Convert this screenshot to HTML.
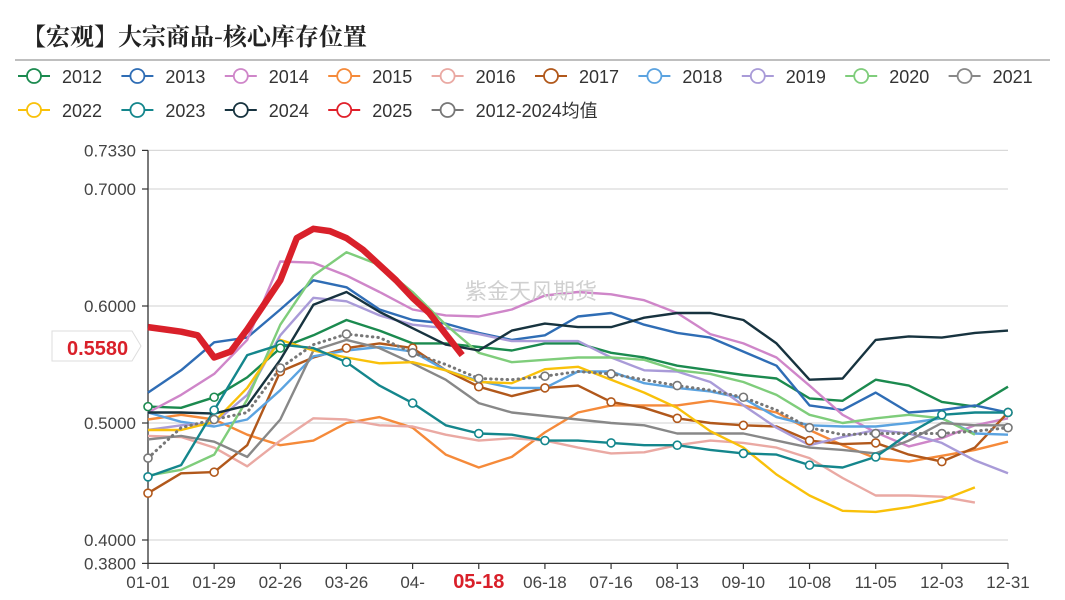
<!DOCTYPE html>
<html><head><meta charset="utf-8">
<style>
body{margin:0;background:#fff;}
svg{display:block;font-family:"Liberation Sans","Noto Sans CJK SC",sans-serif;}
</style></head>
<body>
<svg id="chart" width="1065" height="600" viewBox="0 0 1065 600">
<text x="22" y="45" font-size="24" font-weight="bold" fill="#222" font-family="'Noto Serif CJK SC','Noto Sans CJK SC',serif">【宏观】大宗商品-核心库存位置</text>
<line x1="15" y1="60" x2="1050" y2="60" stroke="#999" stroke-width="1.2"/>
<g id="legend"></g>
<g id="grid"></g>
<g id="series"></g>
<text x="465" y="299" font-size="22" fill="#d0d0d0" font-family="'Noto Sans CJK SC',sans-serif">紫金天风期货</text>
<g>
<path d="M52,331 H132 L141,346 L132,361 H52 Z" fill="#fff" stroke="#ddd" stroke-width="1"/>
<text x="67" y="355" font-size="20" font-weight="bold" fill="#d9202a">0.5580</text>
</g>
</svg>
<script>
const years = ["2012","2013","2014","2015","2016","2017","2018","2019","2020","2021","2022","2023","2024","2025","2012-2024均值"];
const colors = ["#1b8a4f","#2f6db5","#cf86c9","#f58a3a","#eaa9a3","#b1581b","#5ba3e0","#a99bd8","#7fcd7b","#888888","#f9c10a","#14868c","#17333f","#e0202a","#777777"];
const xTickLabels = ["01-01","01-29","02-26","03-26","04-","05-18","06-18","07-16","08-13","09-10","10-08","11-05","12-03","12-31"];
const yTicks = [0.38,0.4,0.5,0.6,0.7,0.733];
const yTickLabels = ["0.3800","0.4000","0.5000","0.6000","0.7000","0.7330"];
const s2012 = [0.514,0.513,0.522,0.539,0.564,0.575,0.588,0.579,0.568,0.568,0.565,0.562,0.568,0.568,0.560,0.556,0.549,0.545,0.541,0.538,0.521,0.519,0.537,0.532,0.518,0.514,0.531];
const s2013 = [0.526,0.545,0.569,0.573,0.597,0.622,0.616,0.597,0.588,0.585,0.577,0.571,0.575,0.591,0.594,0.584,0.577,0.573,0.561,0.549,0.515,0.511,0.526,0.509,0.511,0.515,0.509];
const s2014 = [0.509,0.524,0.542,0.571,0.638,0.637,0.626,0.612,0.597,0.592,0.591,0.597,0.609,0.612,0.610,0.605,0.594,0.576,0.568,0.556,0.532,0.507,0.492,0.480,0.487,0.498,0.504];
const s2015 = [0.503,0.507,0.503,0.490,0.481,0.485,0.500,0.505,0.496,0.473,0.462,0.471,0.492,0.509,0.515,0.515,0.515,0.519,0.515,0.509,0.494,0.481,0.470,0.467,0.472,0.477,0.484];
const s2016 = [0.489,0.488,0.479,0.463,0.485,0.504,0.503,0.498,0.497,0.490,0.485,0.487,0.485,0.479,0.474,0.475,0.481,0.485,0.483,0.479,0.470,0.453,0.438,0.438,0.437,0.432,null];
const s2017 = [0.440,0.457,0.458,0.481,0.544,0.556,0.564,0.568,0.564,0.545,0.531,0.523,0.530,0.532,0.518,0.513,0.504,0.500,0.498,0.497,0.485,0.482,0.483,0.473,0.467,0.479,0.509];
const s2018 = [0.509,0.501,0.497,0.503,0.528,0.557,0.562,0.565,0.561,0.545,0.536,0.530,0.530,0.544,0.544,0.534,0.530,0.527,0.521,0.505,0.498,0.497,0.497,0.500,0.504,0.491,0.490];
const s2019 = [0.494,0.498,0.500,0.524,0.575,0.607,0.604,0.592,0.584,0.581,0.576,0.570,0.570,0.570,0.556,0.545,0.544,0.535,0.515,0.496,0.481,0.488,0.494,0.491,0.483,0.468,0.457];
const s2020 = [0.455,0.460,0.473,0.520,0.584,0.626,0.646,0.635,0.612,0.584,0.560,0.552,0.554,0.556,0.556,0.554,0.545,0.542,0.535,0.524,0.507,0.500,0.504,0.507,0.504,0.490,null];
const s2021 = [0.486,0.489,0.484,0.471,0.503,0.562,0.571,0.564,0.551,0.537,0.517,0.509,0.506,0.503,0.500,0.498,0.491,0.491,0.491,0.485,0.479,0.477,0.474,0.485,0.500,0.498,0.498];
const s2022 = [0.494,0.494,0.501,0.530,0.571,0.562,0.556,0.551,0.552,0.545,0.535,0.534,0.546,0.548,0.537,0.526,0.513,0.493,0.479,0.456,0.438,0.425,0.424,0.428,0.434,0.445,null];
const s2023 = [0.454,0.464,0.511,0.558,0.567,0.564,0.552,0.532,0.517,0.498,0.491,0.490,0.485,0.485,0.483,0.481,0.481,0.477,0.474,0.473,0.464,0.462,0.471,0.491,0.507,0.509,0.509];
const s2024 = [0.509,0.509,0.508,0.515,0.554,0.601,0.612,0.595,0.581,0.567,0.562,0.579,0.585,0.582,0.582,0.590,0.594,0.594,0.588,0.568,0.537,0.538,0.571,0.574,0.573,0.577,0.579];
const sAvg = [0.470,0.496,0.503,0.509,0.547,0.567,0.576,0.573,0.560,0.550,0.538,0.537,0.540,0.544,0.542,0.537,0.532,0.528,0.522,0.511,0.496,0.490,0.491,0.491,0.491,0.493,0.496];
const s2025 = [0.582,0.580,0.578,0.575,0.556,0.561,0.580,0.601,0.622,0.658,0.666,0.664,0.658,0.648,0.635,0.622,0.607,0.594,0.576,0.558];

const NS="http://www.w3.org/2000/svg";
const X0=148, X1=1008;
function yScale(v){return 423-(v-0.5)*1170;}
function xBi(k){return X0+k*(X1-X0)/26;}
function xWeek(i){return X0+i*(X1-X0)/52;}
function el(tag,attrs,parent){const e=document.createElementNS(NS,tag);for(const k in attrs)e.setAttribute(k,attrs[k]);parent.appendChild(e);return e;}

const grid=document.getElementById('grid');
yTicks.forEach((t,i)=>{
  const y=yScale(t);
  if(t>=0.4){const g=el('line',{x1:X0,x2:X1,y1:y,y2:y,stroke:'#d9d9d9','stroke-width':1.3},grid);
  
  }
  el('line',{x1:X0-6,x2:X0,y1:y,y2:y,stroke:'#333','stroke-width':1.2},grid);
  const tx=el('text',{x:X0-12,y:y+6,'text-anchor':'end','font-size':17,fill:'#444'},grid);
  tx.textContent=yTickLabels[i];
  
  
});
el('line',{x1:X0,x2:X0,y1:yScale(0.733),y2:yScale(0.38),stroke:'#333','stroke-width':1.3},grid);
el('line',{x1:X0,x2:X1,y1:yScale(0.38),y2:yScale(0.38),stroke:'#333','stroke-width':1.3},grid);
xTickLabels.forEach((l,i)=>{
  const x=xBi(i*2);
  el('line',{x1:x,x2:x,y1:563,y2:569,stroke:'#333','stroke-width':1.2},grid);
  const tx=el('text',{x:x,y:588,'text-anchor':'middle','font-size':i===5?20:17,'font-weight':i===5?'bold':'normal',fill:i===5?'#d9202a':'#444'},grid);
  tx.textContent=l;
  
  
});

const seriesG=document.getElementById('series');
const biSeries=[s2012,s2013,s2014,s2015,s2016,s2017,s2018,s2019,s2020,s2021,s2022,s2023,s2024];
function drawLine(vals,xf,color,width,name,dash){
  let d='';vals.forEach((v,i)=>{if(v==null)return;d+=(d?'L':'M')+xf(i).toFixed(1)+','+yScale(v).toFixed(1);});
  const p=el('path',{d:d,fill:'none',stroke:color,'stroke-width':width,'stroke-linejoin':'round','stroke-linecap':dash?'round':'butt'},seriesG);
  if(dash)p.setAttribute('stroke-dasharray',dash);
  
  
}
biSeries.forEach((s,i)=>drawLine(s,xBi,colors[i],2.4,'line-'+years[i]));
drawLine(sAvg,xBi,'#777',3,'line-average','0.5 5');
[[s2017,5],[s2023,11],[sAvg,14]].forEach(([s,ci])=>{
  s.forEach((v,k)=>{if(v==null||k%2)return;
    const c=el('circle',{cx:xBi(k),cy:yScale(v),r:4,fill:'#fff',stroke:colors[ci],'stroke-width':1.6},seriesG);
    
    
  });
});
[0,2,4].forEach(k=>{
  const c=el('circle',{cx:xBi(k),cy:yScale(s2012[k]),r:4,fill:'#fff',stroke:colors[0],'stroke-width':1.6},seriesG);
  
  
});
drawLine(s2025,xWeek,'#d9202a',6.5,'line-2025');

const lg=document.getElementById('legend');
years.forEach((y,i)=>{
  const row=i<10?0:1, col=i<10?i:i-10;
  const x=18+col*103.4, cy=row?110:76;
  const g=el('g',{},lg);
  
  
  el('line',{x1:x,x2:x+32,y1:cy,y2:cy,stroke:colors[i],'stroke-width':2},g);
  el('circle',{cx:x+16,cy:cy,r:7,fill:'#fff',stroke:colors[i],'stroke-width':1.8},g);
  const t=el('text',{x:x+44,y:cy+7,'font-size':18,fill:'#333'},g);
  t.textContent=y;
});
</script>
</body></html>
